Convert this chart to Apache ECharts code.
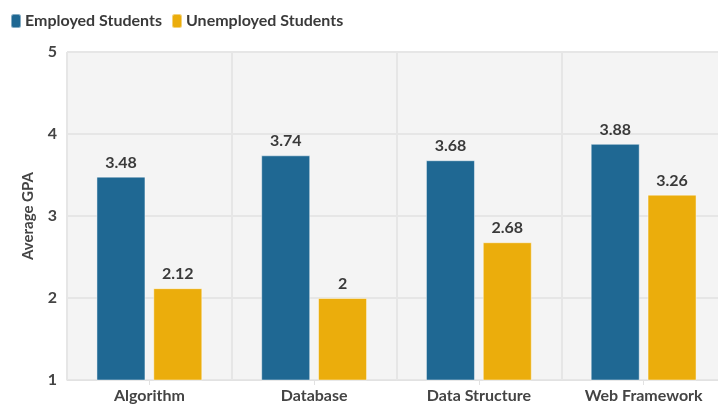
<!DOCTYPE html>
<html>
<head>
<meta charset="utf-8">
<style>
  html, body { margin: 0; padding: 0; background: #ffffff; overflow: hidden; }
  /* plot area runs slightly past the right edge of the window */
  #chart { width: 726px; height: 408px; }
</style>
<script src="https://cdn.jsdelivr.net/npm/echarts@6/dist/echarts.min.js"></script>
</head>
<body>
<div id="chart"></div>
<script>
// Average GPA per course, split by employment status
const courses = ['Algorithm', 'Database', 'Data Structure', 'Web Framework'];
const employedGpa = [3.48, 3.74, 3.68, 3.88];
const unemployedGpa = [2.12, 2, 2.68, 3.26];
const seriesNames = ['Employed Students', 'Unemployed Students'];

const FONT = 'Lato, "Noto Sans", sans-serif';
const TEXT = '#444444';

const chart = echarts.init(document.getElementById('chart'), null, { renderer: 'canvas' });

function barSeries(name, values, color) {
  return {
    name: name,
    type: 'bar',
    data: values,
    barWidth: 49,
    barGap: '16%',
    itemStyle: { color: color, borderColor: 'rgba(255,255,255,0.45)', borderWidth: 1 },
    label: {
      show: true,
      position: 'top',
      distance: 6,
      color: '#3a3a3a',
      fontFamily: FONT,
      fontWeight: 'bold',
      fontSize: 16
    }
  };
}

chart.setOption({
  animation: false,
  textStyle: { fontFamily: FONT },
  legend: {
    left: 5,
    top: 8,
    icon: 'roundRect',
    itemWidth: 10,
    itemHeight: 14,
    itemGap: 9,
    textStyle: { color: '#3a3a3a', fontFamily: FONT, fontWeight: 'bold', fontSize: 16, padding: [0, 0, 0, -1] },
    data: seriesNames
  },
  grid: {
    show: true,
    left: 67,
    right: 0,
    top: 52,
    bottom: 28,
    backgroundColor: '#f4f4f4',
    borderWidth: 0
  },
  xAxis: {
    type: 'category',
    data: courses,
    axisLine: { show: true, lineStyle: { color: '#e2e2e2', width: 1 } },
    axisTick: { show: true, alignWithLabel: true, length: 5, lineStyle: { color: '#e2e2e2' } },
    splitLine: { show: true, lineStyle: { color: '#e6e6e6', width: 2 } },
    axisLabel: { color: TEXT, fontFamily: FONT, fontWeight: 'bold', fontSize: 16, margin: 8 }
  },
  yAxis: {
    type: 'value',
    min: 1,
    max: 5,
    interval: 1,
    name: 'Average GPA',
    nameLocation: 'middle',
    nameGap: 31,
    nameTextStyle: { color: TEXT, fontFamily: FONT, fontWeight: 'bold', fontSize: 15 },
    axisLine: { show: false },
    axisTick: { show: false },
    splitLine: { show: true, lineStyle: { color: '#e6e6e6', width: 2 } },
    axisLabel: { color: TEXT, fontFamily: FONT, fontWeight: 'bold', fontSize: 16, margin: 10 }
  },
  series: [
    barSeries(seriesNames[0], employedGpa, '#1f6893'),
    barSeries(seriesNames[1], unemployedGpa, '#ebad0c')
  ]
});
</script>
</body>
</html>
